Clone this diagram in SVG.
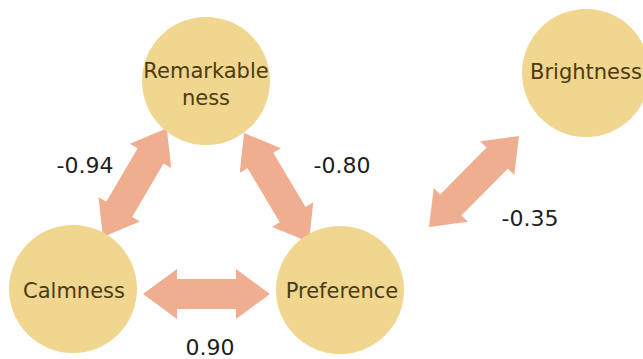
<svg xmlns="http://www.w3.org/2000/svg" width="643" height="359" viewBox="0 0 643 359">
<style>
.node circle{fill:#f0d68e}
.node text{font-family:"DejaVu Sans",sans-serif;font-size:21px;fill:#4a3b12;text-anchor:middle}
.lbl{font-family:"DejaVu Sans",sans-serif;font-size:22px;fill:#1e1e1e;text-anchor:middle}
.arr{fill:#f0ae90}
</style>
<rect width="643" height="359" fill="#fff"/>
<g id="connectors">
<polygon class="arr" transform="translate(143,294)" points="0,0 34,-25 34,-15 93,-15 93,-25 127,0 93,25 93,15 34,15 34,25"/>
<polygon class="arr" transform="translate(103,237) rotate(-59.6)" points="0,0 32,-24 32,-15 94,-15 94,-24 126,0 94,24 94,15 32,15 32,24"/>
<polygon class="arr" transform="translate(244,133) rotate(59.2)" points="0,0 32,-24 32,-15 95,-15 95,-24 127,0 95,24 95,15 32,15 32,24"/>
<polygon class="arr" transform="translate(429,227) rotate(-45.3)" points="0,0 31,-24 31,-15 97,-15 97,-24 128,0 97,24 97,15 31,15 31,24"/>
<text class="lbl" x="85" y="173">-0.94</text>
<text class="lbl" x="342" y="173">-0.80</text>
<text class="lbl" x="530" y="226">-0.35</text>
<text class="lbl" x="210" y="355">0.90</text>
</g>
<g id="remarkableness" class="node"><circle cx="206" cy="81" r="64"/><text x="206" y="78">Remarkable</text><text x="206" y="105">ness</text></g>
<g id="brightness" class="node"><circle cx="586" cy="73" r="64"/><text x="586" y="79">Brightness</text></g>
<g id="calmness" class="node"><circle cx="73" cy="289" r="64"/><text x="74" y="298">Calmness</text></g>
<g id="preference" class="node"><circle cx="340" cy="290" r="64"/><text x="342" y="298">Preference</text></g>
</svg>
